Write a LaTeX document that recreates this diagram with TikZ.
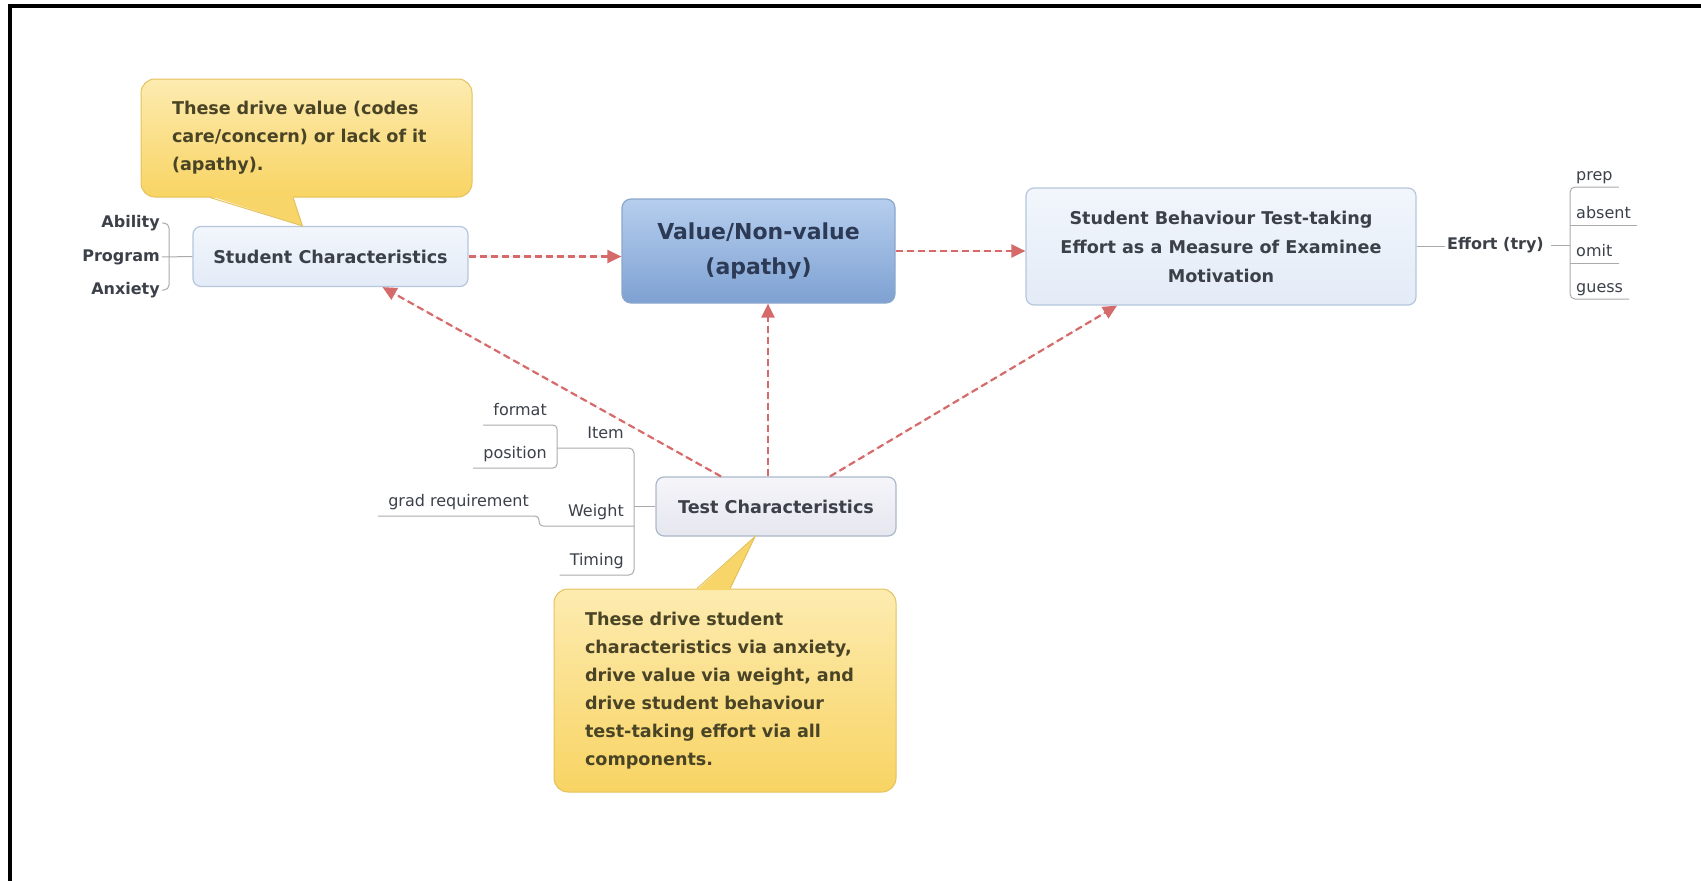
\documentclass[tikz,border=0pt]{standalone}
\usepackage{fontspec}
\setmainfont{DejaVu Sans}
\usepackage{xcolor}
\usetikzlibrary{arrows.meta,calc}
\definecolor{txtdark}{HTML}{3C4048}
\definecolor{notetxt}{HTML}{4A4426}
\definecolor{topicedge}{HTML}{B6C6DC}
\definecolor{topictop}{HTML}{F2F6FC}
\definecolor{topicbot}{HTML}{E3EBF7}
\definecolor{testtop}{HTML}{F5F5FA}
\definecolor{testbot}{HTML}{E6E6EF}
\definecolor{centraledge}{HTML}{8CA7CC}
\definecolor{centraltop}{HTML}{B6CEEE}
\definecolor{centralbot}{HTML}{7EA1D2}
\definecolor{centraltxt}{HTML}{2C3A55}
\definecolor{noteedge}{HTML}{E4C25E}
\definecolor{notetop}{HTML}{FDEBB0}
\definecolor{notebot}{HTML}{F8D463}
\definecolor{tailfill}{HTML}{F8D569}
\definecolor{linkred}{HTML}{D46A6A}
\definecolor{branchgray}{HTML}{AAAAAA}
\tikzset{
  topicbox/.style={draw=topicedge, rounded corners=8pt, align=center, text=txtdark, line width=1.2pt, top color=topictop, bottom color=topicbot, font=\bfseries\fontsize{17.6}{29}\selectfont},
  centralbox/.style={draw=centraledge, rounded corners=9pt, align=center, text=centraltxt, line width=1.2pt, top color=centraltop, bottom color=centralbot, font=\bfseries\fontsize{22}{35}\selectfont},
  notebox/.style={draw=noteedge, rounded corners=14pt, align=left, text=notetxt, line width=1pt, top color=notetop, bottom color=notebot, inner xsep=31pt, font=\bfseries\fontsize{17.6}{28}\selectfont},
  sublabel/.style={text=txtdark, inner xsep=2pt, font=\bfseries\fontsize{16}{18}\selectfont},
  leafl/.style={anchor=south east, text=txtdark, inner xsep=10pt, inner ysep=5pt, text height=12pt, text depth=4pt, font=\fontsize{16}{18}\selectfont},
  leafr/.style={anchor=south west, text=txtdark, inner xsep=6pt, inner ysep=2pt, text height=12pt, text depth=4pt, font=\fontsize{16}{18}\selectfont},
  branch/.style={draw=branchgray, line width=1pt},
  linkarrow/.style={-{Triangle[length=14pt,width=13pt]}, draw=linkred, fill=linkred, line width=2.2pt, dash pattern=on 7pt off 4pt}
}
\begin{document}
\begin{tikzpicture}[x=1pt,y=-1pt]
  \useasboundingbox (0,0) rectangle (1701,881);
  \draw[line width=4pt] (10,881) -- (10,6) -- (1701,6);

  % main topics
  \node[topicbox, minimum width=275, minimum height=60] (stud) at (330.5,256.5) {Student Characteristics};
  \node[centralbox, minimum width=273, minimum height=104] (value) at (758.5,251) {Value/Non-value\\(apathy)};
  \node[topicbox, minimum width=390, minimum height=117] (behav) at (1221,246.5) {Student Behaviour Test-taking\\Effort as a Measure of Examinee\\Motivation};
  \node[topicbox, top color=testtop, bottom color=testbot, draw=topicedge!80!gray, minimum width=240, minimum height=59] (test) at (776,506.5) {Test Characteristics};

  % callouts
  \node[notebox, minimum height=118, text width=269] (note1) at (306.5,138) {These drive value (codes\\care/concern) or lack of it\\(apathy).};
  \node[notebox, minimum height=203, text width=280] (note2) at (725,690.5) {These drive student\\characteristics via anxiety,\\drive value via weight, and\\drive student behaviour\\test-taking effort via all\\components.};
  \fill[tailfill] ($(note1.south)+(-96.5,-1.5)$) -- ($(stud.north)+(-28,0)$) -- ($(note1.south)+(-13.5,-1.5)$) -- cycle;
  \draw[noteedge, line width=1pt] ($(note1.south)+(-96.5,0)$) -- ($(stud.north)+(-28,0)$) -- ($(note1.south)+(-13.5,0)$);
  \fill[tailfill] ($(note2.north)+(-28,1.5)$) -- ($(test.south)+(-21,0)$) -- ($(note2.north)+(5,1.5)$) -- cycle;
  \draw[noteedge, line width=1pt] ($(note2.north)+(-28,0)$) -- ($(test.south)+(-21,0)$) -- ($(note2.north)+(5,0)$);

  % student characteristics branches
  \node[sublabel, anchor=east] (ability) at (162,223) {Ability};
  \node[sublabel, anchor=east] (program) at (162,257) {Program};
  \node[sublabel, anchor=east] (anxiety) at (162,290) {Anxiety};
  \draw[branch, rounded corners=5pt] (ability.east) -- ++(7,0) |- (anxiety.east);
  \draw[branch] (program.east) -- (stud.west);

  % effort branches
  \node[sublabel, anchor=west] (effort) at (1445,245) {Effort (try)};
  \node[leafr] (prep) at (1570,187) {prep};
  \node[leafr] (absent) at (1570,225) {absent};
  \node[leafr] (omit) at (1570,263) {omit};
  \node[leafr] (guess) at (1570,299) {guess};
  \draw[branch] (behav.east) -- (behav.east -| effort.west);
  \draw[branch] ($(effort.east)+(5,0)$) -- (effort.east -| prep.south west);
  \draw[branch, rounded corners=5pt] (prep.south east) -- (prep.south west) -- (guess.south west) -- (guess.south east);
  \draw[branch] (absent.south west) -- (absent.south east);
  \draw[branch] (omit.south west) -- (omit.south east);

  % test characteristics branches
  \node[leafl] (item) at (634,448) {Item};
  \node[leafl] (weight) at (634,526) {Weight};
  \node[leafl] (timing) at (634,575) {Timing};
  \node[leafl] (format) at (557,425) {format};
  \node[leafl] (position) at (557,468) {position};
  \node[leafl] (grad) at (539,516) {grad requirement};
  \draw[branch] (test.west) -- (test.west -| item.south east);
  \draw[branch, rounded corners=5pt] (format.south east |- item.south) -- (item.south east) -- (timing.south east) -- (timing.south west);
  \draw[branch, rounded corners=4pt] (weight.south east) -- (grad.south east |- weight.south) -- (grad.south east) -- (grad.south west);
  \draw[branch, rounded corners=4pt] (format.south west) -- (format.south east) -- (position.south east) -- (position.south west);

  % influence links
  \draw[linkarrow] (stud.east) -- (stud.east -| value.west);
  \draw[linkarrow] (value.east) -- (value.east -| behav.west);
  \draw[linkarrow] ($(test.north)+(-55,0)$) -- ($(stud.south)+(52,0)$);
  \draw[linkarrow] ($(test.north)+(-8,0)$) -- ($(value.south)+(9.5,0)$);
  \draw[linkarrow] ($(test.north)+(54,0)$) -- ($(behav.south)+(-104,0)$);
\end{tikzpicture}
\end{document}
